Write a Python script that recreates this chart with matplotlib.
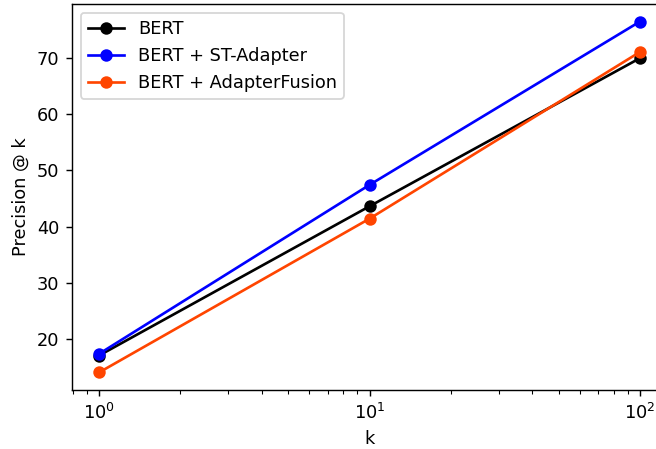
import numpy as np
import matplotlib
matplotlib.use('Agg')
import matplotlib.pyplot as plt

k = [1, 10, 100]
bert = [17.1, 43.6, 69.9]
st_adapter = [17.4, 47.4, 76.4]
adapter_fusion = [14.1, 41.4, 71.0]

fig = plt.figure(figsize=(656/128, 449/128), dpi=128)
ax = fig.add_axes([72/656, 59/449, 595/656, 386/449])
ax.plot(k, bert, marker='o', color='black', label='BERT')
ax.plot(k, st_adapter, marker='o', color='blue', label='BERT + ST-Adapter')
ax.plot(k, adapter_fusion, marker='o', color='orangered', label='BERT + AdapterFusion')
ax.set_xscale('log')
ax.set_xlabel('k')
ax.set_ylabel('Precision @ k')
ax.legend(loc='upper left')
plt.savefig('out.png', dpi=128)
plt.close()
